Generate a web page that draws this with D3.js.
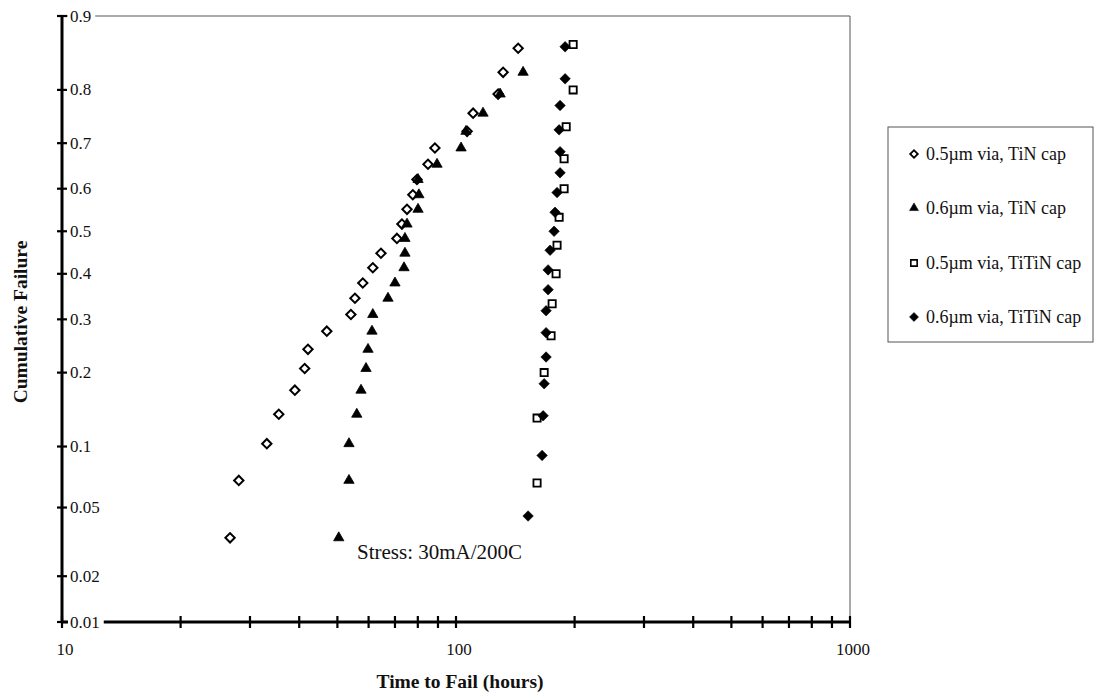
<!DOCTYPE html>
<html>
<head>
<meta charset="utf-8">
<script src="https://cdn.jsdelivr.net/npm/d3@7"></script>
<style>
  html, body { margin: 0; padding: 0; background: #fff; }
  svg { display: block; font-family: "Liberation Serif", "Times New Roman", serif; }
</style>
</head>
<body>
<svg id="chart" width="1096" height="694"></svg>
<script>
// ---------------- data ----------------
const seriesNames = ["0.5\u00b5m via, TiN cap", "0.6\u00b5m via, TiN cap", "0.5\u00b5m via, TiTiN cap", "0.6\u00b5m via, TiTiN cap"];

const timeTiN05 = [26.7, 28.1, 33.1, 35.5, 39.0, 41.3, 42.1, 47.0, 54.1, 55.4, 58.0, 61.5, 64.5, 70.8, 72.9, 75.1, 77.7, 79.6, 84.9, 88.4, 106.7, 110.5, 127.9, 131.7, 143.8];
const cumTiN05  = [0.034, 0.069, 0.103, 0.138, 0.172, 0.207, 0.241, 0.276, 0.310, 0.345, 0.379, 0.414, 0.448, 0.483, 0.517, 0.552, 0.586, 0.621, 0.655, 0.690, 0.724, 0.759, 0.793, 0.828, 0.862];

const timeTiN06 = [50.4, 53.5, 53.5, 56.0, 57.4, 59.1, 59.8, 61.2, 61.5, 67.2, 70.0, 73.8, 74.2, 74.2, 75.1, 80.1, 80.5, 80.1, 89.5, 103.0, 106.0, 117.1, 129.4, 148.0];
const cumTiN06  = [0.034, 0.069, 0.103, 0.138, 0.172, 0.207, 0.241, 0.276, 0.310, 0.345, 0.379, 0.414, 0.448, 0.483, 0.517, 0.552, 0.586, 0.621, 0.655, 0.690, 0.724, 0.759, 0.793, 0.828];

const timeTiTiN05 = [160.6, 160.6, 167.4, 174.3, 175.4, 179.5, 180.5, 182.7, 188.1, 188.1, 190.4, 198.3, 198.3];
const cumTiTiN05  = [0.067, 0.133, 0.200, 0.267, 0.333, 0.400, 0.467, 0.533, 0.600, 0.667, 0.733, 0.800, 0.867];

const timeTiTiN06 = [152.4, 165.4, 166.4, 167.4, 169.3, 169.3, 169.3, 171.3, 171.3, 173.3, 177.4, 178.4, 180.5, 183.7, 183.7, 182.7, 183.7, 189.2, 189.2];
const cumTiTiN06  = [0.045, 0.091, 0.136, 0.182, 0.227, 0.273, 0.318, 0.364, 0.409, 0.455, 0.500, 0.545, 0.591, 0.636, 0.682, 0.727, 0.773, 0.818, 0.864];

const yTickValues = [0.01, 0.02, 0.05, 0.1, 0.2, 0.3, 0.4, 0.5, 0.6, 0.7, 0.8, 0.9];
const yTickLabels = ["0.01", "0.02", "0.05", "0.1", "0.2", "0.3", "0.4", "0.5", "0.6", "0.7", "0.8", "0.9"];
const xTickValues = [10, 20, 30, 40, 50, 60, 70, 80, 90, 100, 200, 300, 400, 500, 600, 700, 800, 900, 1000];
const xTickLabels = ["10", "100", "1000"];
const xLabelValues = [10, 100, 1000];

// ---------------- helpers ----------------
function probit(p) {
  const a=[-3.969683028665376e+01,2.209460984245205e+02,-2.759285104469687e+02,1.383577518672690e+02,-3.066479806614716e+01,2.506628277459239e+00];
  const b=[-5.447609879822406e+01,1.615858368580409e+02,-1.556989798598866e+02,6.680131188771972e+01,-1.328068155288572e+01];
  const c=[-7.784894002430293e-03,-3.223964580411365e-01,-2.400758277161838e+00,-2.549671324906102e+00,4.374664141464968e+00,2.938163982698783e+00];
  const d=[7.784695709041462e-03,3.224671290700398e-01,2.445134137142996e+00,3.754408661907416e+00];
  const pl = 0.02425, ph = 1 - pl;
  let q, r;
  if (p < pl) { q = Math.sqrt(-2*Math.log(p)); return (((((c[0]*q+c[1])*q+c[2])*q+c[3])*q+c[4])*q+c[5])/((((d[0]*q+d[1])*q+d[2])*q+d[3])*q+1); }
  if (p <= ph) { q = p - 0.5; r = q*q; return (((((a[0]*r+a[1])*r+a[2])*r+a[3])*r+a[4])*r+a[5])*q/(((((b[0]*r+b[1])*r+b[2])*r+b[3])*r+b[4])*r+1); }
  q = Math.sqrt(-2*Math.log(1-p));
  return -(((((c[0]*q+c[1])*q+c[2])*q+c[3])*q+c[4])*q+c[5])/((((d[0]*q+d[1])*q+d[2])*q+d[3])*q+1);
}

// ---------------- layout ----------------
const L = 62, R = 850, T = 16, B = 622;
const svg = d3.select("#chart");

const x = d3.scaleLog().domain([10, 1000]).range([L, R]);
const yz = d3.scaleLinear().domain([probit(0.01), probit(0.9)]).range([B, T]);
const y = p => yz(probit(p));

// frame (thin top and right)
svg.append("line").attr("x1", L).attr("x2", R).attr("y1", T).attr("y2", T)
  .attr("stroke", "#555").attr("stroke-width", 1);
svg.append("line").attr("x1", R).attr("x2", R).attr("y1", T).attr("y2", B)
  .attr("stroke", "#555").attr("stroke-width", 1);

// x axis (thick)
const xAxisG = svg.append("g");
xAxisG.append("line").attr("x1", L).attr("x2", R).attr("y1", B).attr("y2", B)
  .attr("stroke", "#000").attr("stroke-width", 3);
xAxisG.selectAll("line.xt").data(xTickValues).enter().append("line")
  .attr("class", "xt")
  .attr("x1", d => x(d)).attr("x2", d => x(d))
  .attr("y1", B - 6).attr("y2", B + 6)
  .attr("stroke", "#000").attr("stroke-width", 2.2);
xAxisG.selectAll("text.xl").data(xLabelValues).enter().append("text")
  .attr("class", "xl")
  .attr("x", d => x(d) + 3).attr("y", 655)
  .attr("text-anchor", "middle").attr("font-size", 17).attr("fill", "#111")
  .text((d, i) => xTickLabels[i]);

// y axis (thick)
const yAxisG = svg.append("g");
yAxisG.append("line").attr("x1", L).attr("x2", L).attr("y1", T).attr("y2", B)
  .attr("stroke", "#000").attr("stroke-width", 3);
yAxisG.selectAll("line.yt").data(yTickValues).enter().append("line")
  .attr("class", "yt")
  .attr("x1", L - 5).attr("x2", L + 5)
  .attr("y1", d => y(d)).attr("y2", d => y(d))
  .attr("stroke", "#000").attr("stroke-width", 2.2);
const yLab = yAxisG.selectAll("g.yl").data(yTickValues).enter().append("g").attr("class", "yl");
yLab.append("rect").attr("fill", "#fff");
yLab.append("text")
  .attr("x", 70).attr("y", d => y(d))
  .attr("dominant-baseline", "central")
  .attr("font-size", 17).attr("fill", "#111")
  .text((d, i) => yTickLabels[i]);
yLab.each(function() {
  const g = d3.select(this);
  const bb = g.select("text").node().getBBox();
  g.select("rect").attr("x", 68).attr("y", bb.y).attr("width", bb.x + bb.width - 68 + 4).attr("height", bb.height);
});

// axis titles
svg.append("text")
  .attr("transform", "translate(20,322) rotate(-90)")
  .attr("text-anchor", "middle").attr("dominant-baseline", "central")
  .attr("font-size", 19.5).attr("font-weight", "bold").attr("fill", "#111")
  .text("Cumulative Failure");
svg.append("text")
  .attr("x", 460).attr("y", 688)
  .attr("text-anchor", "middle")
  .attr("font-size", 19.5).attr("font-weight", "bold").attr("fill", "#111")
  .text("Time to Fail (hours)");

// annotation
svg.append("text")
  .attr("x", 357).attr("y", 559)
  .attr("font-size", 21).attr("fill", "#111")
  .text("Stress: 30mA/200C");

// markers
const diamondPath = s => d3.symbol().type(d3.symbolSquare).size(s * s)();
const markerDefs = [
  { path: diamondPath(6.6), rot: 45, fill: "#fff", stroke: "#000", sw: 2 },
  { path: d3.symbol().type(d3.symbolTriangle).size(46)(), rot: 0, fill: "#000", stroke: "#000", sw: 0.8 },
  { path: d3.symbol().type(d3.symbolSquare).size(52)(), rot: 0, fill: "#fff", stroke: "#000", sw: 1.8 },
  { path: diamondPath(7.4), rot: 45, fill: "#000", stroke: "#000", sw: 0.6 }
];

const series = [
  { t: timeTiN05, p: cumTiN05 },
  { t: timeTiN06, p: cumTiN06 },
  { t: timeTiTiN05, p: cumTiTiN05 },
  { t: timeTiTiN06, p: cumTiTiN06 }
];

series.forEach((s, si) => {
  const m = markerDefs[si];
  svg.append("g").selectAll("path").data(s.t).enter().append("path")
    .attr("d", m.path)
    .attr("transform", (d, i) => `translate(${x(d)},${y(s.p[i])}) rotate(${m.rot})`)
    .attr("fill", m.fill).attr("stroke", m.stroke).attr("stroke-width", m.sw);
});

// legend
const lg = svg.append("g");
lg.append("rect").attr("x", 888).attr("y", 127).attr("width", 205).attr("height", 215)
  .attr("fill", "#fff").attr("stroke", "#555").attr("stroke-width", 1);
const legendY = [154, 208, 263, 317];
const legendMarkers = [
  { path: diamondPath(5.4), rot: 45, fill: "#fff", stroke: "#000", sw: 1.8 },
  { path: d3.symbol().type(d3.symbolTriangle).size(34)(), rot: 0, fill: "#000", stroke: "#000", sw: 0.6 },
  { path: d3.symbol().type(d3.symbolSquare).size(40)(), rot: 0, fill: "#fff", stroke: "#000", sw: 1.6 },
  { path: diamondPath(6.4), rot: 45, fill: "#000", stroke: "#000", sw: 0.5 }
];
seriesNames.forEach((name, i) => {
  const m = legendMarkers[i];
  lg.append("path").attr("d", m.path)
    .attr("transform", `translate(914,${legendY[i]}) rotate(${m.rot})`)
    .attr("fill", m.fill).attr("stroke", m.stroke).attr("stroke-width", m.sw);
  lg.append("text").attr("x", 926).attr("y", legendY[i])
    .attr("dominant-baseline", "central")
    .attr("font-size", 18).attr("fill", "#111")
    .text(name);
});
</script>
</body>
</html>
